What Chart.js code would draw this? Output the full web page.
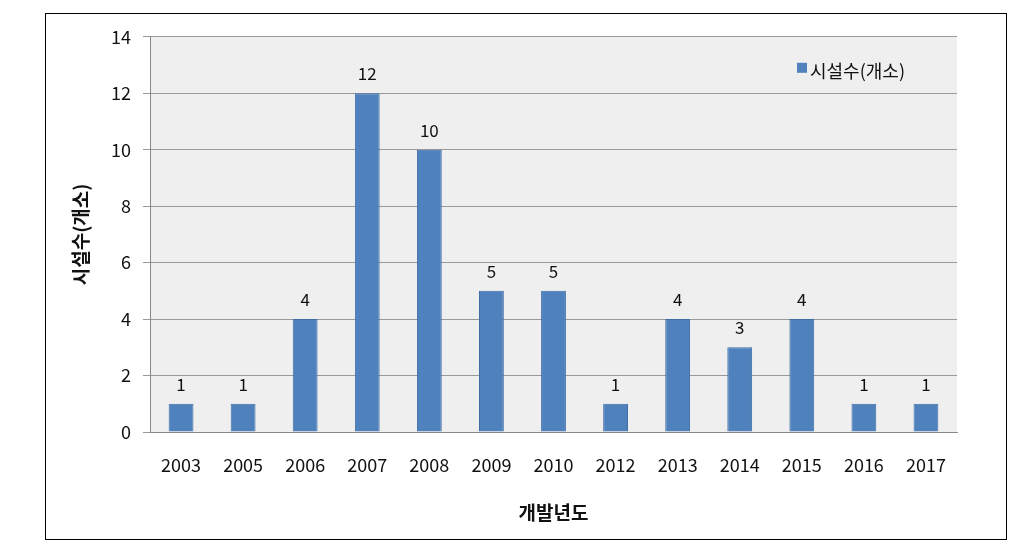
<!DOCTYPE html>
<html>
<head>
<meta charset="utf-8">
<script src="https://cdn.jsdelivr.net/npm/chart.js@4"></script>
<style>
  body { margin: 0; background: #fff; }
  #wrap {
    position: absolute; left: 45px; top: 13px;
    width: 962px; height: 527px;
    border: 1px solid #000; box-sizing: border-box;
  }
</style>
</head>
<body>
<div id="wrap"><canvas id="grafico"></canvas></div>
<script>
const anos = ["2003", "2005", "2006", "2007", "2008", "2009", "2010", "2012", "2013", "2014", "2015", "2016", "2017"];
const instalacoes = [1, 1, 4, 12, 10, 5, 5, 1, 4, 3, 4, 1, 1];
const serieNome = "시설수(개소)";
const tituloY = "시설수(개소)";
const tituloX = "개발년도";

const fonte = "'Noto Sans CJK KR', 'Noto Sans', sans-serif";

// fundo cinza da área do gráfico
const fundoArea = {
  id: "fundoArea",
  beforeDraw(chart) {
    const { ctx, chartArea: a } = chart;
    ctx.save();
    ctx.fillStyle = "#efefef";
    ctx.fillRect(a.left, a.top, a.right - a.left, a.bottom - a.top);
    ctx.restore();
  },
};

// valores em cima das barras
const rotulos = {
  id: "rotulos",
  afterDatasetsDraw(chart) {
    const { ctx } = chart;
    const meta = chart.getDatasetMeta(0);
    ctx.save();
    ctx.font = "17px " + fonte;
    ctx.fillStyle = "#111";
    ctx.textAlign = "center";
    ctx.textBaseline = "alphabetic";
    meta.data.forEach((bar, i) => {
      ctx.fillText(chart.data.datasets[0].data[i], bar.x, bar.y - 13);
    });
    ctx.restore();
  },
};

// legenda dentro da área do gráfico
const legendaInterna = {
  id: "legendaInterna",
  afterDraw(chart) {
    const { ctx, chartArea: a } = chart;
    const ds = chart.data.datasets[0];
    const x = a.right - 160;
    const y = a.top + 35;
    ctx.save();
    ctx.fillStyle = ds.backgroundColor;
    ctx.fillRect(x, y - 9, 10, 10);
    ctx.font = "18px " + fonte;
    ctx.fillStyle = "#111";
    ctx.textBaseline = "middle";
    ctx.fillText(ds.label, x + 13, y - 1);
    ctx.restore();
  },
};

const ctx = document.getElementById("grafico");

new Chart(ctx, {
  type: "bar",
  data: {
    labels: anos,
    datasets: [
      {
        label: serieNome,
        data: instalacoes,
        backgroundColor: "#4f81bd",
        borderColor: "#3d6ea8",
        borderWidth: 1,
        barPercentage: 0.4,
        categoryPercentage: 1.0,
      },
    ],
  },
  options: {
    responsive: true,
    maintainAspectRatio: false,
    animation: false,
    layout: { padding: { top: 19, right: 49, left: 0, bottom: 0 } },
    plugins: {
      legend: { display: false },
      tooltip: { enabled: false },
    },
    scales: {
      x: {
        afterFit: (s) => { s.height = 107; },
        grid: { display: false, drawTicks: false },
        border: { color: "#888" },
        ticks: {
          color: "#111",
          padding: 22,
          font: { family: fonte, size: 18 },
        },
        title: {
          display: true,
          text: tituloX,
          color: "#111",
          font: { family: fonte, size: 19, weight: "bold" },
          padding: { top: 0, bottom: 15 },
        },
      },
      y: {
        min: 0,
        max: 14,
        afterFit: (s) => { s.width = 104; },
        ticks: {
          stepSize: 2,
          color: "#111",
          padding: 12,
          font: { family: fonte, size: 18 },
        },
        grid: { color: "#999", tickLength: 7 },
        border: { color: "#888" },
        title: {
          display: true,
          text: tituloY,
          color: "#111",
          font: { family: fonte, size: 19, weight: "bold" },
          padding: { top: 23, bottom: 0 },
        },
      },
    },
  },
  plugins: [fundoArea, rotulos, legendaInterna],
});
</script>
</body>
</html>
